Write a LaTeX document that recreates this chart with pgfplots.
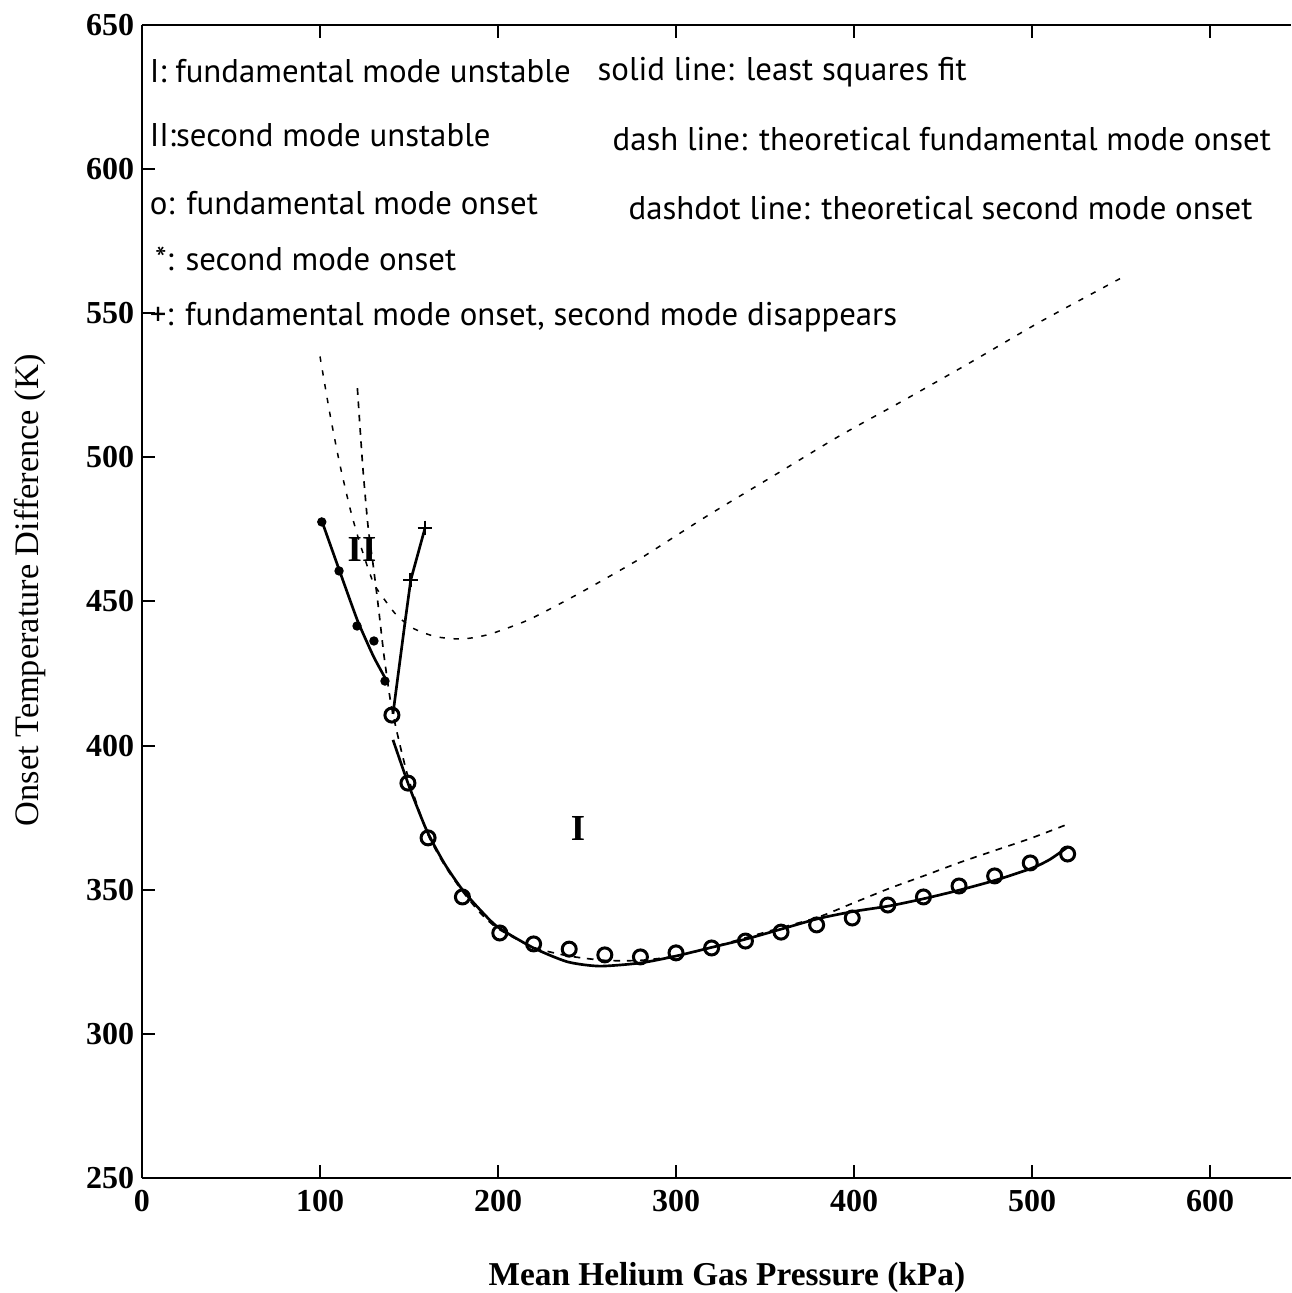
\documentclass[border=0pt]{standalone}
\usepackage{fontspec}
\setmainfont{Liberation Serif}
\newfontfamily\notefont{PT Sans}
\usepackage{pgfplots}
\pgfplotsset{compat=1.18}

\begin{document}
\begin{tikzpicture}
\begin{axis}[name=ax, scale only axis, width=344.7pt, height=345.9pt,
  xmin=0, xmax=645.5, ymin=250, ymax=650,
  axis x line=box, axis y line=left,
  axis line style={-, line width=0.7pt},
  xtick={0,100,...,600}, ytick={250,300,...,650},
  tick align=inside, major tick length=4pt,
  tick style={line width=0.6pt, black},
  ticklabel style={font=\fontsize{9.6}{10}\selectfont\bfseries},
  yticklabel style={xshift=1.2pt},
  /pgf/number format/assume math mode=true,
  clip=false,
]
% theoretical second mode onset (upper curve)
\addplot[black, line width=0.45pt, dash pattern=on 1.6pt off 2.6pt, smooth, tension=0.4] coordinates {
(100,535) (105.6,515) (111,498) (117,482) (122.5,470) (130,456.5) (137.6,449.5)
(143,445.3) (152,440.8) (165,437.8) (180,437) (195,438.6) (217,443.6) (242,451.6)
(262,458.5) (281.5,465.5) (317,479.5) (354.5,493.5) (392,507.5) (430,520.5)
(467,533.5) (504.5,547) (549.4,562)};
% theoretical fundamental mode onset
\addplot[black, line width=0.5pt, dash pattern=on 2pt off 2pt, smooth, tension=0.4] coordinates {
(121,524) (124,497) (127,476) (130,462) (133,447) (136,431) (140,414) (145,400)
(150,388) (160,370) (170,358.5) (180,349.5) (190,342) (200,336.5) (220,330) (240,327)
(260,325.5) (280,325.5) (300,327) (320,330) (340,333.5) (360,337) (380,340.5)
(400,345.5) (420,350.5) (440,355) (460,359.6) (480,363.8) (500,368) (519,372.5)};
% least squares fit, fundamental
\addplot[black, line width=0.8pt, smooth, tension=0.4] coordinates {
(141,402) (150,386) (160,370.5) (170,359) (180,350) (190,343) (200,337) (220,329.8)
(239,325) (257,323.5) (280,324.6) (300,327) (320,330) (340,333) (360,336.5)
(380,340) (400,342.5) (420,344.4) (440,347) (460,350) (480,353.4) (500,357.5)
(510,360.5) (520,364.8)};
% least squares fit, second mode
\addplot[black, line width=0.8pt, smooth, tension=0.3] coordinates {
(101,478) (111,460.6) (121,443.5) (130,431) (137,423)};
% fit, fundamental onset with second mode disappearing
\addplot[black, line width=0.8pt] coordinates {
(141,411) (147.8,443) (151,457.5) (159,475.5)};
% o: fundamental mode onset
\addplot[only marks, mark=o, mark size=2.1pt, mark options={line width=0.9pt, black}] coordinates {
(140.4,410.6) (149.4,387) (160.7,368) (180,347.5) (201,335) (220,331.2) (240,329.4)
(260,327.4) (280,326.7) (300,328.1) (320,329.8) (339,332.2) (359,335.3) (379,337.8)
(399,340.2) (419,344.7) (439,347.5) (459,351.3) (479,354.8) (499,359.3) (520,362.4)};
% *: second mode onset
\addplot[only marks, mark=*, mark size=1.2pt, black] coordinates {
(101,477.6) (110.7,460.6) (120.8,441.5) (130.3,436.3) (136.5,422.4)};
% +: fundamental mode onset, second mode disappears
\addplot[only marks, mark=+, mark size=2.2pt, mark options={line width=0.8pt, black}] coordinates {
(151,457.5) (159,475.5)};

\node[anchor=center, font=\fontsize{11}{11}\selectfont\bfseries] at (axis cs:123.6,468) {II};
\node[anchor=center, font=\fontsize{11}{11}\selectfont\bfseries] at (axis cs:245,371.4) {I};

\begin{scope}[every node/.style={anchor=base west, inner sep=0pt, font=\notefont\fontsize{9.85}{10}\selectfont}]
\node at (axis cs:4,630.2) {I: fundamental mode unstable};
\node at (axis cs:4,607.7) {II:second mode unstable};
\node at (axis cs:4,584.1) {o: fundamental mode onset};
\node at (axis cs:7,565.0) {*: second mode onset};
\node at (axis cs:4,545.9) {+: fundamental mode onset, second mode disappears};
\node at (axis cs:255.6,630.9) {solid line: least squares fit};
\node at (axis cs:264,606.6) {dash line: theoretical fundamental mode onset};
\node at (axis cs:273,582.4) {dashdot line: theoretical second mode onset};
\end{scope}

\node[anchor=base, inner sep=0pt, font=\fontsize{10}{10}\selectfont\bfseries]
  at ([yshift=-32.1pt]rel axis cs:0.509,0) {Mean Helium Gas Pressure (kPa)};
\node[anchor=center, rotate=90, inner sep=0pt, font=\fontsize{10.3}{10}\selectfont]
  at ([xshift=-33.6pt]rel axis cs:0,0.51) {Onset Temperature Difference (K)};
\end{axis}
\pgfresetboundingbox
\useasboundingbox ([xshift=-42.6pt,yshift=-34.5pt]ax.south west) rectangle ([yshift=7.5pt]ax.north east);
\end{tikzpicture}
\end{document}
